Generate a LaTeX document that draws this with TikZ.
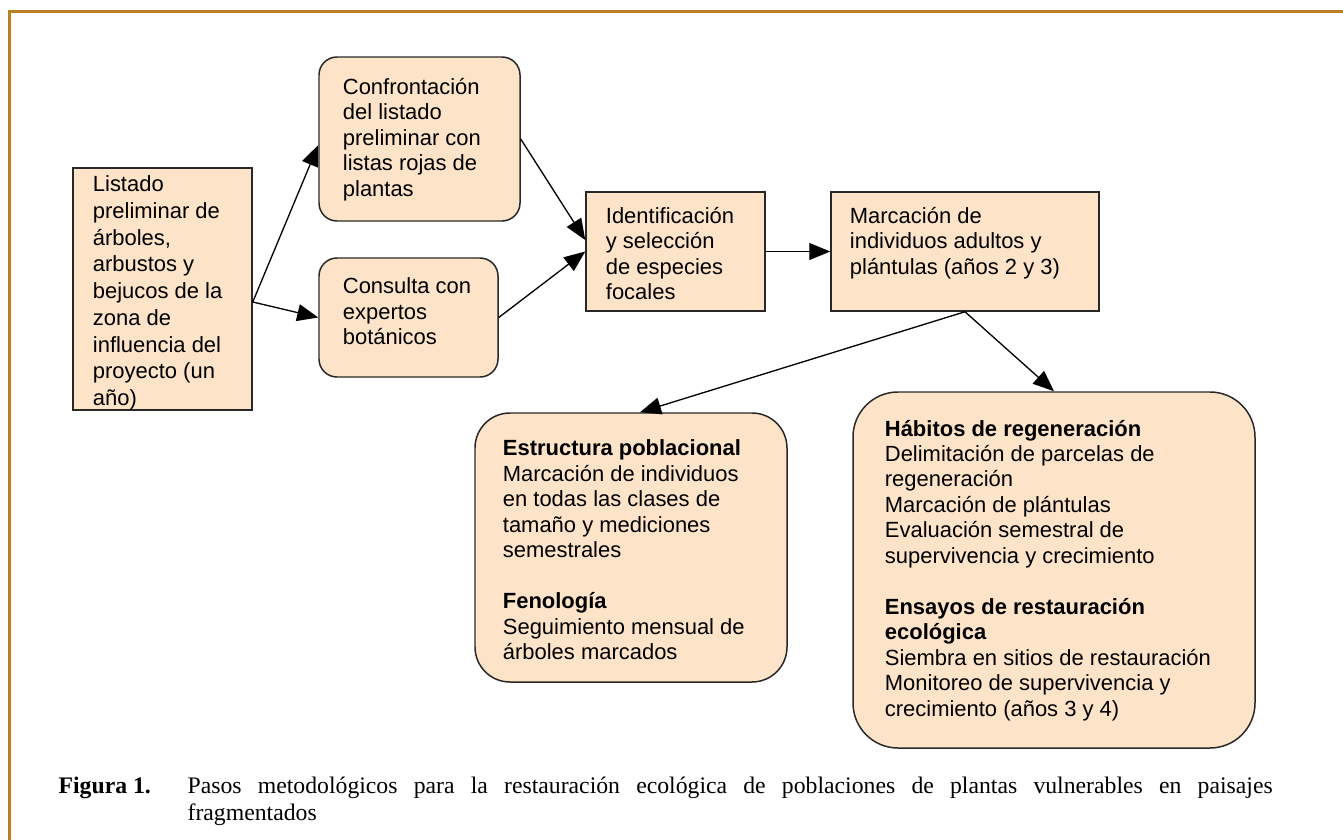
\documentclass[tikz,border=0pt]{standalone}
\usepackage{fontspec}
\setmainfont{Liberation Sans}
\newfontfamily\captionfont{Liberation Serif}
\usepackage{tikz}
\usetikzlibrary{positioning, arrows.meta}

\definecolor{peach}{RGB}{253,228,200}
\definecolor{framegold}{RGB}{184,128,30}
\definecolor{edgegray}{RGB}{40,40,40}

\begin{document}
\begin{tikzpicture}[line width=0.75pt, >={Triangle[length=0.42cm, width=0.34cm]},
  box/.style={draw=edgegray, line width=0.85pt, fill=peach, inner sep=0},
  round box/.style={box, rounded corners=0.36cm},
  txt/.style={inner sep=0, align=left, font=\fontsize{12.5}{14.5}\selectfont}]

\useasboundingbox (0, 0) rectangle (26.86, -16.8);
\draw[color=framegold, line width=1.7pt] (0.19, -0.23) rectangle (27.5, -17.5);

% first column
\node[box, minimum width=3.58cm, minimum height=4.84cm] (listado) at (3.25, -5.78) {};
\node[txt, font=\fontsize{12.5}{15.2}\selectfont, below right=0.16cm and 0.4cm of listado.north west] (listado text) {Listado\\preliminar de\\árboles,\\arbustos y\\bejucos de la\\zona de\\influencia del\\proyecto (un\\año)};

% second column
\node[round box, minimum width=4.02cm, minimum height=3.28cm] (confront) at (8.39, -2.78) {};
\node[txt, below right=0.42cm and 0.48cm of confront.north west] (confront text) {Confrontación\\del listado\\preliminar con\\listas rojas de\\plantas};

\node[round box, minimum width=3.58cm, minimum height=2.38cm] (consulta) at (8.17, -6.35) {};
\node[txt, below right=0.4cm and 0.48cm of consulta.north west] (consulta text) {Consulta con\\expertos\\botánicos};

\draw[->] ([yshift=-0.26cm]listado.east) -- ([yshift=-0.12cm]confront.west) {};
\draw[->] ([yshift=-0.26cm]listado.east) -- (consulta.west) {};

% third and fourth column
\node[box, minimum width=3.58cm, minimum height=2.38cm] (ident) at (13.51, -5.03) {};
\node[txt, below right=0.3cm and 0.4cm of ident.north west] (ident text) {Identificación\\y selección\\de especies\\focales};

\node[box, minimum width=5.36cm, minimum height=2.38cm] (marcacion) at (19.30, -5.03) {};
\node[txt, below right=0.3cm and 0.38cm of marcacion.north west] (marcacion text) {Marcación de\\individuos adultos y\\plántulas (años 2 y 3)};

\draw[->] (confront.east) -- ([yshift=0.23cm]ident.west) {};
\draw[->] (consulta.east) -- (ident.west) {};
\draw[->] (ident.east) -- (marcacion.west) {};

% lower boxes
\node[round box, rounded corners=0.7cm, minimum width=6.24cm, minimum height=5.38cm] (estructura) at (12.62, -10.95) {};
\node[txt, below right=0.54cm and 0.56cm of estructura.north west] (estructura text) {\textbf{Estructura poblacional}\\Marcación de individuos\\en todas las clases de\\tamaño y mediciones\\semestrales\\[14.5pt]\textbf{Fenología}\\Seguimiento mensual de\\árboles marcados};

\node[round box, rounded corners=0.9cm, minimum width=8.04cm, minimum height=7.12cm] (habitos) at (21.08, -11.40) {};
\node[txt, below right=0.56cm and 0.64cm of habitos.north west] (habitos text) {\textbf{Hábitos de regeneración}\\Delimitación de parcelas de\\regeneración\\Marcación de plántulas\\Evaluación semestral de\\supervivencia y crecimiento\\[14.5pt]\textbf{Ensayos de restauración}\\\textbf{ecológica}\\Siembra en sitios de restauración\\Monitoreo de supervivencia y\\crecimiento (años 3 y 4)};

\draw[->] (marcacion.south) -- ([xshift=0.18cm]estructura.north) {};
\draw[->] (marcacion.south) -- (habitos.north) {};

% caption
\node[anchor=base west, inner sep=0, font=\captionfont\fontsize{13.5}{15.3}\selectfont\bfseries] (fig label) at (1.16, -15.86) {Figura 1.};
\node[anchor=base west, inner sep=0, font=\captionfont\fontsize{13.5}{15.3}\selectfont] (caption) at (3.74, -15.86) {\makebox[21.7cm][s]{Pasos metodológicos para la restauración ecológica de poblaciones de plantas vulnerables en paisajes}};
\node[anchor=base west, inner sep=0, font=\captionfont\fontsize{13.5}{15.3}\selectfont] (caption end) at (3.74, -16.40) {fragmentados};
\end{tikzpicture}
\end{document}
